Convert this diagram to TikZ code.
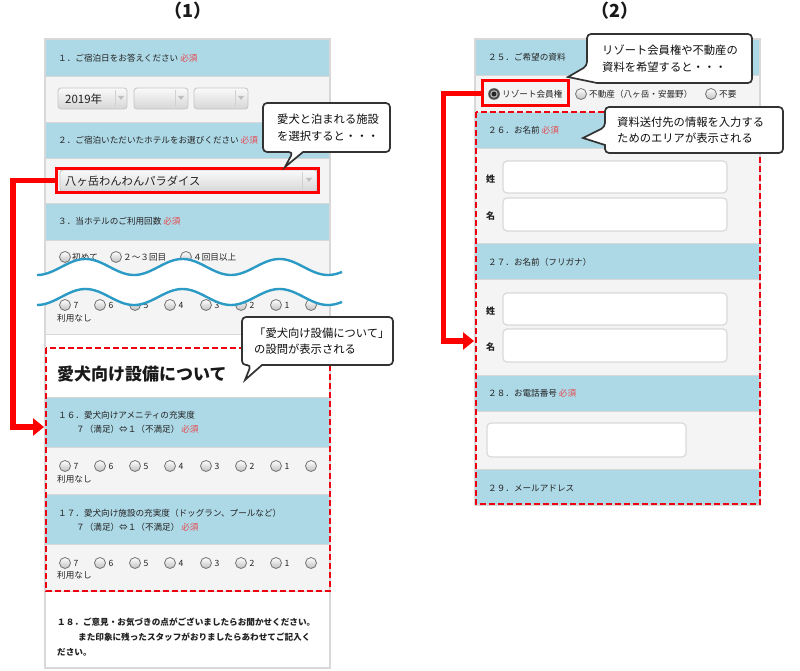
\documentclass[tikz,border=0pt]{standalone}
\usepackage{fontspec}
\setmainfont{Noto Sans CJK JP}
\usetikzlibrary{arrows.meta}
\definecolor{hdr}{HTML}{ADD8E6}
\definecolor{rowg}{HTML}{F4F4F4}
\definecolor{pline}{HTML}{D8D8D8}
\definecolor{txt}{HTML}{222222}
\definecolor{req}{HTML}{E8474C}
\definecolor{conn}{HTML}{FF0000}
\definecolor{dashc}{HTML}{EE0010}
\definecolor{wavec}{HTML}{2B9AC5}
\definecolor{calb}{HTML}{333333}
\definecolor{ddb}{HTML}{C4C4C4}
\definecolor{inpb}{HTML}{D9D9D9}
\begin{document}
\begin{tikzpicture}[x=1pt,y=-1pt,
  lbl/.style={font=\fontsize{8.6}{10}\selectfont, text=txt, anchor=west, inner sep=0},
  blbl/.style={font=\fontsize{9}{10}\selectfont\bfseries, text=txt, anchor=west, inner sep=0},
  sep/.style={draw=pline, line width=0.8},
  radio/.style={draw=black!55, line width=0.8, top color=white, bottom color=black!25},
  ddbox/.style={draw=ddb, line width=0.8, rounded corners=3, top color=black!2, bottom color=black!16},
  ddsep/.style={draw=black!18, line width=0.6},
  ddtri/.style={fill=black!25},
  inp/.style={draw=inpb, line width=1.2, fill=white, rounded corners=4},
  redbox/.style={draw=conn, line width=3, inner sep=0, fill=none},
  dashbox/.style={draw=dashc, line width=2, dash pattern=on 6pt off 3pt},
  connline/.style={draw=conn, line width=5.5, -{Triangle[length=11pt,width=17pt]}},
  callout/.style={draw=calb, line width=1.7, fill=white, rounded corners=4},
  cotext/.style={anchor=west, align=left, inner sep=0, text=black!95, font=\fontsize{11.3}{16.5}\selectfont},
  ttl/.style={font=\fontsize{18}{19}\selectfont\bfseries, text=black!90, inner sep=0},
  wavel/.style={draw=wavec, line width=2.4}
]
\useasboundingbox (0,0) rectangle (800,671);
\fill[white] (0,0) rectangle (800,671);

% titles
\node[ttl] (t1) at (188,11) {（1）};
\node[ttl] (t2) at (615,11) {（2）};

% ================= LEFT PANEL =================
\fill[hdr] (45,39) rectangle (330,76);
\fill[rowg] (45,76) rectangle (330,122);
\fill[hdr] (45,122) rectangle (330,158);
\fill[rowg] (45,158) rectangle (330,203);
\fill[hdr] (45,203) rectangle (330,240);
\fill[rowg] (45,240) rectangle (330,334);
\fill[hdr] (45,397) rectangle (330,447);
\fill[rowg] (45,447) rectangle (330,494);
\fill[hdr] (45,494) rectangle (330,544);
\fill[rowg] (45,544) rectangle (330,591);
\foreach \yy in {76,122,158,203,240,334,397,447,494,544,591}
  \draw[sep] (45,\yy) -- (330,\yy);
\draw[pline, line width=1.5] (45,39) rectangle (330,668);

% Q1
\node[lbl] (q1) at (58,58) {１．ご宿泊日をお答えください\ \textcolor{req}{必須}};
\draw[ddbox] (58,88) rectangle (127,109);
\draw[ddsep] (115,90) -- (115,107);
\fill[ddtri] (118,96) -- (124,96) -- (121,100) -- cycle;
\node[lbl, font=\fontsize{11.5}{12}\selectfont] (yr) at (65,99) {2019年};
\draw[ddbox] (134,88) rectangle (188,109);
\draw[ddsep] (175,90) -- (175,107);
\fill[ddtri] (178,96) -- (184,96) -- (181,100) -- cycle;
\draw[ddbox] (194,88) rectangle (248,109);
\draw[ddsep] (235,90) -- (235,107);
\fill[ddtri] (238,96) -- (244,96) -- (241,100) -- cycle;

% Q2
\node[lbl] (q2) at (58,140) {２．ご宿泊いただいたホテルをお選びください\ \textcolor{req}{必須}};
\draw[ddbox] (60,170) rectangle (317,192);
\draw[ddsep] (302,172) -- (302,190);
\fill[ddtri] (306,178) -- (312,178) -- (309,182) -- cycle;
\node[lbl, font=\fontsize{11.3}{12}\selectfont] (hotel) at (65,181) {八ヶ岳わんわんパラダイス};

% Q3
\node[lbl] (q3) at (58,221) {３．当ホテルのご利用回数\ \textcolor{req}{必須}};
\draw[radio] (65,257) circle[radius=5.5];
\node[lbl] (q3a) at (72,257) {初めて};
\draw[radio] (116,257) circle[radius=5.5];
\node[lbl] (q3b) at (123,257) {２～３回目};
\draw[radio] (186,257) circle[radius=5.5];
\node[lbl] (q3c) at (193,257) {４回目以上};

% scale rows
\foreach \yy/\yl/\nm in {305/318/w, 466/479/p, 563/575/q}{
  \foreach \xx/\tt in {65/7,100/6,135/5,170/4,206/3,241/2,276/1}{
    \draw[radio] (\xx,\yy) circle[radius=5.5];
    \node[lbl] (\nm\tt) at (\xx+7,\yy) {\,\tt};
  }
  \draw[radio] (311,\yy) circle[radius=5.5];
  \node[lbl] (\nm n) at (57,\yl) {利用なし};
}

% waves (cut)
\fill[white] plot[domain=30:345, samples=150] (\x,{267+8*cos((\x-37)/97*360)})
  -- plot[domain=345:30, samples=150] (\x,{297+8*cos((\x-37)/97*360)}) -- cycle;
\draw[wavel] plot[domain=37:342, samples=150] (\x,{267+8*cos((\x-37)/97*360)});
\draw[wavel] plot[domain=37:342, samples=150] (\x,{297+8*cos((\x-37)/97*360)});

% section title
\node[anchor=west, inner sep=0, text=black!90, font=\fontsize{17}{18}\selectfont\bfseries] (sect) at (57,374) {愛犬向け設備について};

% Q16
\node[lbl] (q16) at (58,415) {１６．愛犬向けアメニティの充実度};
\node[lbl] (q16b) at (76,429) {７（満足）⇔１（不満足）\ \textcolor{req}{必須}};
% Q17
\node[lbl] (q17) at (58,513) {１７．愛犬向け施設の充実度（ドッグラン、プールなど）};
\node[lbl] (q17b) at (76,527) {７（満足）⇔１（不満足）\ \textcolor{req}{必須}};

% Q18
\node[lbl, font=\fontsize{8.6}{10}\selectfont\bfseries] (q18a) at (57,622) {１８．ご意見・お気づきの点がございましたらお聞かせください。};
\node[lbl, font=\fontsize{8.6}{10}\selectfont\bfseries] (q18b) at (78,637) {また印象に残ったスタッフがおりましたらあわせてご記入く};
\node[lbl, font=\fontsize{8.6}{10}\selectfont\bfseries] (q18c) at (57,652) {ださい。};

\draw[dashbox] (45.5,348) rectangle (329.5,591);

% ================= RIGHT PANEL =================
\fill[hdr] (475,39) rectangle (760,75);
\fill[rowg] (475,75) rectangle (760,112);
\fill[hdr] (475,112) rectangle (760,148);
\fill[rowg] (475,148) rectangle (760,243);
\fill[hdr] (475,243) rectangle (760,279);
\fill[rowg] (475,279) rectangle (760,375);
\fill[hdr] (475,375) rectangle (760,411);
\fill[rowg] (475,411) rectangle (760,469);
\fill[hdr] (475,469) rectangle (760,504);
\foreach \yy in {75,112,148,243,279,375,411,469}
  \draw[sep] (475,\yy) -- (760,\yy);
\draw[pline, line width=1.5] (475,39) rectangle (760,505);

\node[lbl] (q25) at (488,57) {２５．ご希望の資料};
\fill[black!70] (494,94) circle[radius=5.8];
\fill[black!30] (494,94) circle[radius=3.8];
\fill[black!85] (494,94) circle[radius=2.4];
\node[lbl] (q25a) at (502,94) {リゾート会員権};
\draw[radio] (581,94) circle[radius=5.5];
\node[lbl] (q25b) at (589,94) {不動産（八ヶ岳・安曇野）};
\draw[radio] (711,94) circle[radius=5.5];
\node[lbl] (q25c) at (719,94) {不要};

\node[lbl] (q26) at (488,130) {２６．お名前\ \textcolor{req}{必須}};
\node[blbl] (s1) at (486,179) {姓};
\draw[inp] (503,161) rectangle (727,193);
\node[blbl] (m1) at (486,216) {名};
\draw[inp] (503,198) rectangle (727,231);

\node[lbl] (q27) at (488,262) {２７．お名前（フリガナ）};
\node[blbl] (s2) at (486,311) {姓};
\draw[inp] (503,293) rectangle (727,325);
\node[blbl] (m2) at (486,347) {名};
\draw[inp] (503,329) rectangle (727,362);

\node[lbl] (q28) at (488,393) {２８．お電話番号\ \textcolor{req}{必須}};
\draw[inp] (487,423) rectangle (686,457);

\node[lbl] (q29) at (488,488) {２９．メールアドレス};

\draw[dashbox] (475.5,112) rectangle (759.5,504);

% ================= RED BOXES & CONNECTORS =================
\node[redbox, minimum width=262, minimum height=24] (selred) at (187.5,180.5) {};
\node[redbox, minimum width=86, minimum height=25] (resred) at (525.5,93.5) {};
\coordinate (tip1) at (44,427);
\coordinate (tip2) at (474,341);
\draw[connline] (selred.west) -- ++(-42,0) |- (tip1);
\draw[connline] (resred.west) -- ++(-37.5,0) |- (tip2);

% ================= CALLOUTS =================
\draw[callout] (303,152) -- (390,152) -- (390,103) -- (263,103) -- (263,152) -- (293,152) [sharp corners] -- (285,167) -- cycle;
\node[cotext] (co1) at (277,127.5) {愛犬と泊まれる施設\\を選択すると・・・};

\draw[callout] (262,365) -- (393,365) -- (393,317) -- (242,317) -- (242,365) -- (251,365) [sharp corners] -- (245,380) -- cycle;
\node[cotext] (co2) at (254,341) {「愛犬向け設備について」\\の設問が表示される};

\draw[callout] (597,83) -- (752,83) -- (752,34) -- (587,34) -- (587,66) [sharp corners] -- (568,77) -- cycle;
\node[cotext] (co3) at (602,58.5) {リゾート会員権や不動産の\\資料を希望すると・・・};

\draw[callout] (605,145) -- (605,153) -- (783,153) -- (783,107) -- (605,107) -- (605,127) [sharp corners] -- (583,138) -- cycle;
\node[cotext] (co4) at (617,130) {資料送付先の情報を入力する\\ためのエリアが表示される};

\end{tikzpicture}
\end{document}
